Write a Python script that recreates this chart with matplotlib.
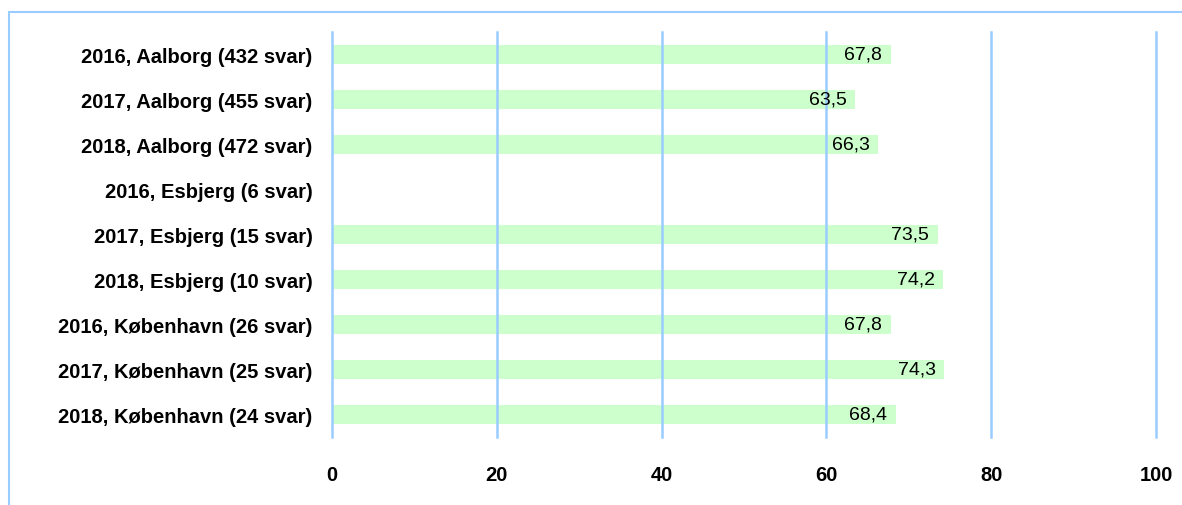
import matplotlib.pyplot as plt
from matplotlib.patches import Rectangle

plt.rcParams['font.family'] = ['Liberation Sans', 'DejaVu Sans']

categories = ['2016, Aalborg (432 svar)', '2017, Aalborg (455 svar)', '2018, Aalborg (472 svar)',
              '2016, Esbjerg (6 svar)', '2017, Esbjerg (15 svar)', '2018, Esbjerg (10 svar)',
              '2016, København (26 svar)', '2017, København (25 svar)', '2018, København (24 svar)']
values = [67.8, 63.5, 66.3, None, 73.5, 74.2, 67.8, 74.3, 68.4]
xticks = [0, 20, 40, 60, 80, 100]

grid_col = '#99ccff'
bar_col = '#ccffcc'

fig = plt.figure(figsize=(11.82, 5.06), dpi=100)
ax = fig.add_axes([0.2809, 0.1344, 0.6971, 0.8004])

# outer chart frame (only top and left visible in the crop)
fig.add_artist(Rectangle((9 / 1182, -0.05), 1.2, 1 - 13 / 506 + 0.05, transform=fig.transFigure,
                         fill=False, edgecolor=grid_col, linewidth=1.5))

ypos = list(range(len(categories)))
for y, v in zip(ypos, values):
    if v is None:
        continue
    ax.barh(y, v, height=0.42, color=bar_col, zorder=1)
    ax.annotate(f'{v:.1f}'.replace('.', ','), (v, y), xytext=(-6, 0), textcoords='offset points',
                ha='right', va='center', fontsize=14, zorder=3)

for t in xticks:
    ax.axvline(t, color=grid_col, linewidth=1.8, zorder=2, clip_on=False)

ax.set_xlim(0, 100)
ax.set_ylim(len(categories) - 0.5, -0.5)
ax.set_yticks(ypos)
ax.set_yticklabels(categories, fontsize=14.5, fontweight='bold')
ax.set_xticks(xticks)
ax.set_xticklabels([str(t) for t in xticks], fontsize=14.5, fontweight='bold')
ax.tick_params(axis='both', length=0)
ax.tick_params(axis='x', pad=20)
ax.tick_params(axis='y', pad=14)
for s in ax.spines.values():
    s.set_visible(False)

fig.savefig('out.png', dpi=100)
